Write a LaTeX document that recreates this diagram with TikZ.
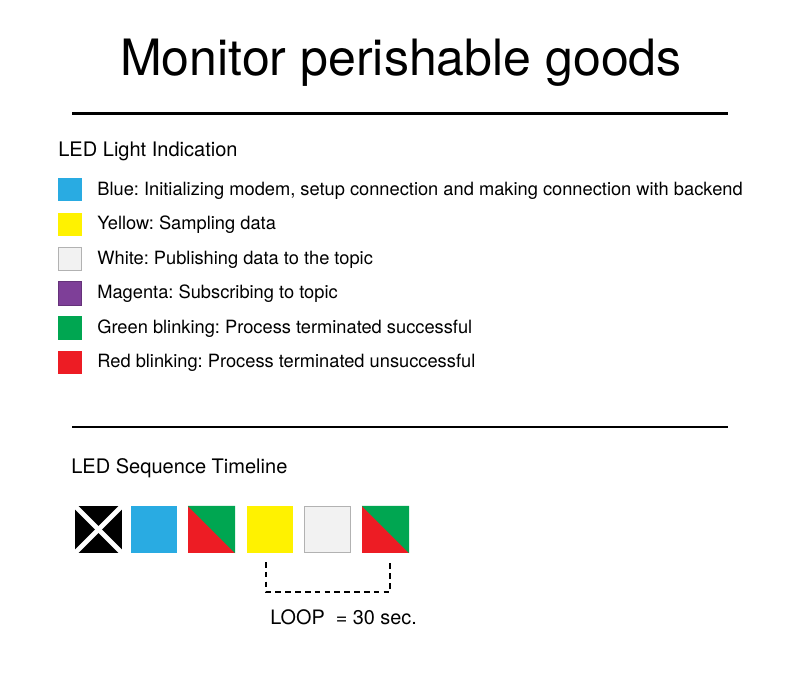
\documentclass[tikz,border=0pt]{standalone}
\usepackage{fontspec}
\setmainfont{TeX Gyre Heros}
\frenchspacing
\usetikzlibrary{positioning}
\definecolor{ledblue}{HTML}{29ABE2}
\definecolor{ledyellow}{HTML}{FFF200}
\definecolor{ledwhite}{HTML}{F2F2F2}
\definecolor{ledpurple}{HTML}{7E3F98}
\definecolor{ledgreen}{HTML}{00A651}
\definecolor{ledred}{HTML}{ED1C24}

\begin{document}
\begin{tikzpicture}[x=0.02cm, y=-0.02cm,
		label/.style = {anchor=base west, inner sep=0pt},
		heading/.style = {label, font=\fontsize{11.4}{13}\selectfont},
		item/.style = {label, font=\fontsize{10.4}{12}\selectfont},
		key/.style = {rectangle, inner sep=0pt, minimum size=0.47cm},
		led/.style = {rectangle, inner sep=0pt, minimum size=0.93cm}]
		
		\useasboundingbox (0,0) rectangle (800,690);
		
		% Title
		\node[anchor=base, inner sep=0pt, font=\fontsize{28.5}{32}\selectfont]
			(title) at (401,75) {Monitor perishable goods};
		\draw[line width=1.2pt] (72,113.5) -- (728,113.5);
		
		% Legend
		\node[heading] (legend) at (58,156) {LED Light Indication};
		
		\node[key, fill=ledblue] (kblue) at (70,189.5) {};
		\node[item] (tblue) at (97,195) {Blue: Initializing modem, setup connection and making connection with backend};
		
		\node[key, fill=ledyellow] (kyellow) at (70,224.5) {};
		\node[item] (tyellow) at (97,229.5) {Yellow: Sampling data};
		
		\node[key, fill=ledwhite, draw=black!30, line width=0.6pt] (kwhite) at (70,259) {};
		\node[item] (twhite) at (97,264) {White: Publishing data to the topic};
		
		\node[key, fill=ledpurple, draw=ledpurple!80!black, line width=0.4pt] (kpurple) at (70,293.5) {};
		\node[item] (tpurple) at (97,298.5) {Magenta: Subscribing to topic};
		
		\node[key, fill=ledgreen] (kgreen) at (70,328) {};
		\node[item] (tgreen) at (97,333) {Green blinking: Process terminated successful};
		
		\node[key, fill=ledred] (kred) at (70,362.5) {};
		\node[item] (tred) at (97,367.5) {Red blinking: Process terminated unsuccessful};
		
		\draw[line width=1.2pt] (72,427) -- (728,427);
		
		% Timeline
		\node[heading] (timeline) at (71,473) {LED Sequence Timeline};
		
		\node[led, fill=black] (t1) at (98.5,529.5) {};
		\node[led, fill=ledblue] (t2) at (154,529.5) {};
		\node[led, fill=ledred] (t3) at (211.5,529.5) {};
		\node[led, fill=ledyellow] (t4) at (270,529.5) {};
		\node[led, fill=ledwhite, draw=black!30, line width=0.6pt] (t5) at (327.5,529.5) {};
		\node[led, fill=ledred] (t6) at (385.5,529.5) {};
		
		\begin{scope}
			\clip (t1.north west) rectangle (t1.south east);
			\draw[white, line width=2.8pt] (t1.north west) -- (t1.south east);
			\draw[white, line width=2.8pt] (t1.north east) -- (t1.south west);
		\end{scope}
		
		\fill[ledgreen] (t3.north west) -- (t3.north east) -- (t3.south east) -- cycle;
		\fill[ledgreen] (t6.north west) -- (t6.north east) -- (t6.south east) -- cycle;
		
		% Loop bracket
		\coordinate (loopa) at (266,562);
		\coordinate (loopb) at (390,562);
		\draw[line width=1.4pt, dash pattern=on 3.2pt off 2.4pt] (loopa) -- ++(0,30) -| (loopb);
		
		\node[label, font=\fontsize{11.3}{13}\selectfont] (loop) at (270,624) {LOOP \ = 30 sec.};
	\end{tikzpicture}
\end{document}
